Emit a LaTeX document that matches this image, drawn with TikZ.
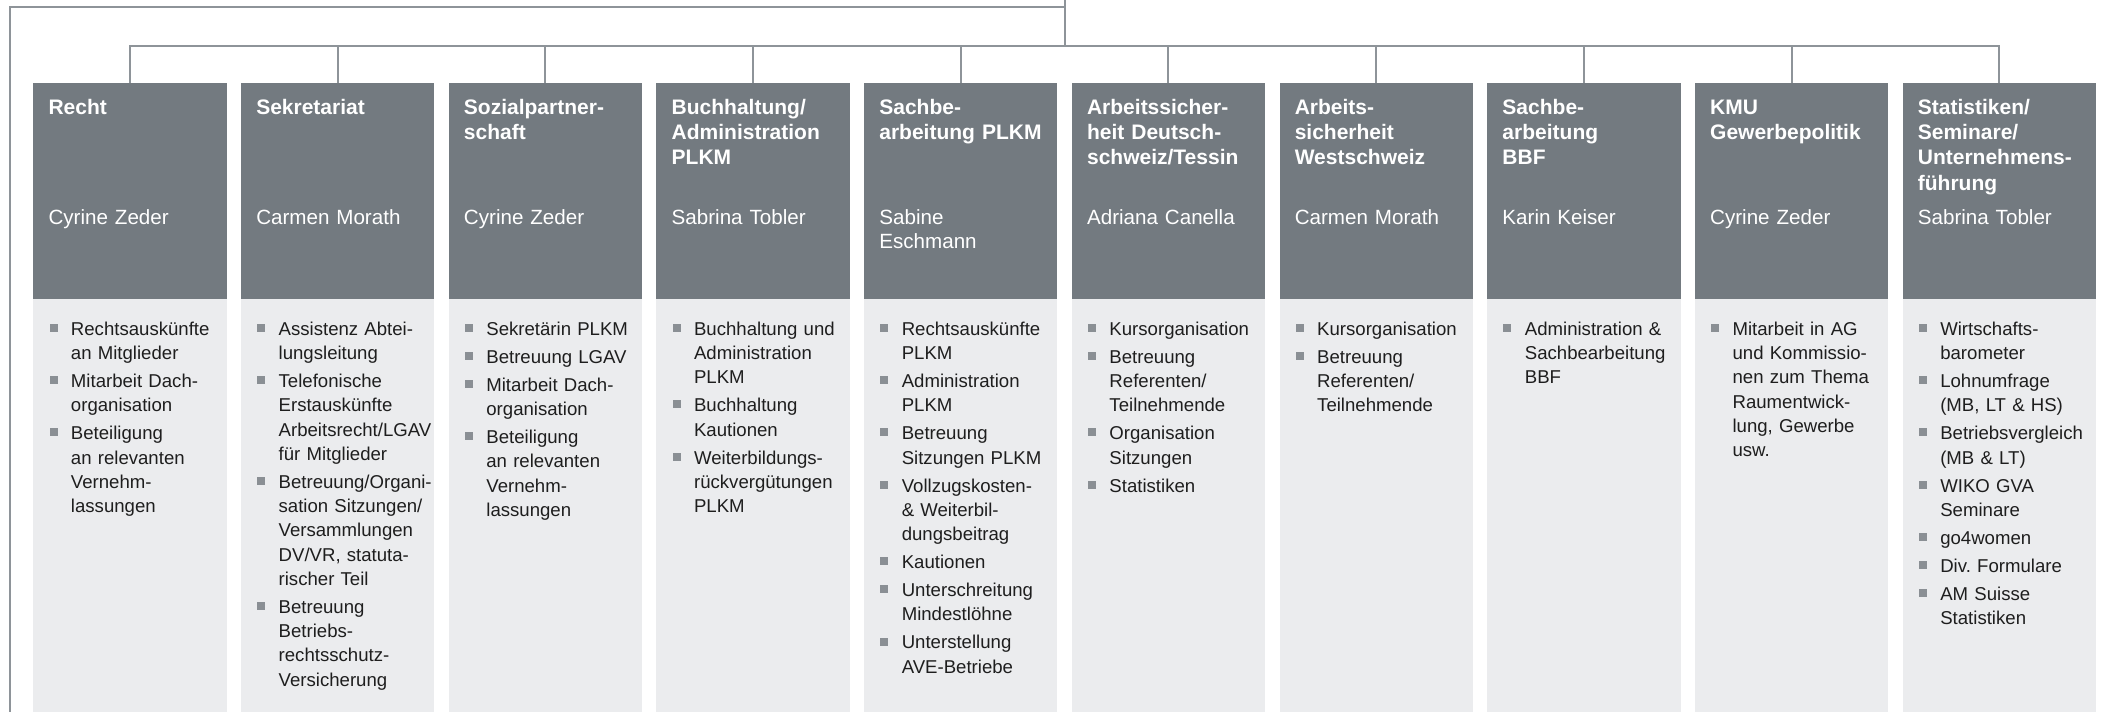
\documentclass[tikz,border=0pt]{standalone}
\usepackage{fontspec}
\setmainfont{Liberation Sans}
\frenchspacing
\newlength{\px}\setlength{\px}{0.75pt}
\definecolor{headc}{HTML}{737A80}
\definecolor{bodyc}{HTML}{EBECEE}
\definecolor{linec}{HTML}{8E9499}
\definecolor{bulc}{HTML}{8A8F94}
\definecolor{txtc}{HTML}{1E1E1E}
\newcommand{\bsq}{\textcolor{bulc}{\rule[3.3\px]{8\px}{8\px}}}
\newcommand{\bitem}[1]{\hangindent=21.4\px\hangafter=1\noindent\makebox[21.4\px][l]{\bsq}\strut{\let\\\newline#1}\par}
\newcommand{\itemsetup}{\setlength{\parskip}{2.8pt}\setlength{\parindent}{0pt}\raggedright}
\begin{document}
\begin{tikzpicture}[x=0.75pt,y=-0.75pt,
  headbox/.style={fill=headc,draw=none,anchor=north west,minimum width=145pt,minimum height=161.8pt,inner sep=0pt,outer sep=0pt},
  bodybox/.style={fill=bodyc,draw=none,anchor=north west,minimum width=145pt,minimum height=309.5pt,inner sep=0pt,outer sep=0pt},
  title/.style={anchor=north west,inner sep=0pt,text width=140pt,align=left,text=white,font=\fontsize{15.75pt}{19pt}\selectfont\bfseries},
  person/.style={anchor=north west,inner sep=0pt,text width=140pt,align=left,text=white,font=\fontsize{15.45pt}{18.2pt}\selectfont},
  items/.style={anchor=north west,inner sep=0pt,text width=135pt,text=txtc,font=\fontsize{13.95pt}{18.2pt}\selectfont,execute at begin node=\itemsetup},
  conn/.style={draw=linec,line width=1.5pt}]
\useasboundingbox (0,0) rectangle (2102,711);

% boxes
\node[headbox] (h1) at (33.3,83.3) {};
\node[headbox] (h2) at (241.0,83.3) {};
\node[headbox] (h3) at (448.7,83.3) {};
\node[headbox] (h4) at (656.4,83.3) {};
\node[headbox] (h5) at (864.1,83.3) {};
\node[headbox] (h6) at (1071.8,83.3) {};
\node[headbox] (h7) at (1279.5,83.3) {};
\node[headbox] (h8) at (1487.2,83.3) {};
\node[headbox] (h9) at (1694.9,83.3) {};
\node[headbox] (h10) at (1902.6,83.3) {};
\foreach \i in {1,...,10} \node[bodybox] (b\i) at (h\i.south west) {};

% connectors
\coordinate (hub) at (1065.3,45.7);
\coordinate (topend) at (1065.3,0);
\coordinate (framejoin) at (1065.3,6.7);
\coordinate (frameend) at (10,712);
\draw[conn] (frameend) |- (framejoin);
\draw[conn] (topend) -- (hub);
\foreach \i in {1,...,10} \draw[conn] (h\i.north) |- (hub);

% titles
\node[title] (t1) at (48.3,96.3) {\strut Recht};
\node[title] (t2) at (256.0,96.3) {\strut Sekretariat};
\node[title] (t3) at (463.7,96.3) {\strut Sozialpartner-\\schaft};
\node[title] (t4) at (671.4,96.3) {\strut Buchhaltung/\\Administration\\PLKM};
\node[title] (t5) at (879.1,96.3) {\strut Sachbe-\\arbeitung PLKM};
\node[title] (t6) at (1086.8,96.3) {\strut Arbeitssicher-\\heit Deutsch-\\schweiz/Tessin};
\node[title] (t7) at (1294.5,96.3) {\strut Arbeits-\\sicherheit\\Westschweiz};
\node[title] (t8) at (1502.2,96.3) {\strut Sachbe-\\arbeitung\\BBF};
\node[title] (t9) at (1709.9,96.3) {\strut KMU\\Gewerbepolitik};
\node[title] (t10) at (1917.6,96.3) {\strut Statistiken/\\Seminare/\\Unternehmens-\\führung};

% persons
\node[person] (n1) at (48.3,207) {\strut Cyrine Zeder};
\node[person] (n2) at (256.0,207) {\strut Carmen Morath};
\node[person] (n3) at (463.7,207) {\strut Cyrine Zeder};
\node[person] (n4) at (671.4,207) {\strut Sabrina Tobler};
\node[person] (n5) at (879.1,207) {\strut Sabine\\Eschmann};
\node[person] (n6) at (1086.8,207) {\strut Adriana Canella};
\node[person] (n7) at (1294.5,207) {\strut Carmen Morath};
\node[person] (n8) at (1502.2,207) {\strut Karin Keiser};
\node[person] (n9) at (1709.9,207) {\strut Cyrine Zeder};
\node[person] (n10) at (1917.6,207) {\strut Sabrina Tobler};

% items
\node[items] (i1) at (49.3,318) {%
\bitem{Rechtsauskünfte\\an Mitglieder}
\bitem{Mitarbeit Dach-\\organisation}
\bitem{Beteiligung\\an relevanten\\Vernehm-\\lassungen}};
\node[items] (i2) at (257.0,318) {%
\bitem{Assistenz Abtei-\\lungsleitung}
\bitem{Telefonische\\Erstauskünfte\\Arbeitsrecht/LGAV\\für Mitglieder}
\bitem{Betreuung/Organi-\\sation Sitzungen/\\Versammlungen\\DV/VR, statuta-\\rischer Teil}
\bitem{Betreuung\\Betriebs-\\rechtsschutz-\\Versicherung}};
\node[items] (i3) at (464.7,318) {%
\bitem{Sekretärin PLKM}
\bitem{Betreuung LGAV}
\bitem{Mitarbeit Dach-\\organisation}
\bitem{Beteiligung\\an relevanten\\Vernehm-\\lassungen}};
\node[items] (i4) at (672.4,318) {%
\bitem{Buchhaltung und\\Administration\\PLKM}
\bitem{Buchhaltung\\Kautionen}
\bitem{Weiterbildungs-\\rückvergütungen\\PLKM}};
\node[items] (i5) at (880.1,318) {%
\bitem{Rechtsauskünfte\\PLKM}
\bitem{Administration\\PLKM}
\bitem{Betreuung\\Sitzungen PLKM}
\bitem{Vollzugskosten-\\\& Weiterbil-\\dungsbeitrag}
\bitem{Kautionen}
\bitem{Unterschreitung\\Mindestlöhne}
\bitem{Unterstellung\\AVE-Betriebe}};
\node[items] (i6) at (1087.8,318) {%
\bitem{Kursorganisation}
\bitem{Betreuung\\Referenten/\\Teilnehmende}
\bitem{Organisation\\Sitzungen}
\bitem{Statistiken}};
\node[items] (i7) at (1295.5,318) {%
\bitem{Kursorganisation}
\bitem{Betreuung\\Referenten/\\Teilnehmende}};
\node[items] (i8) at (1503.2,318) {%
\bitem{Administration \&\\Sachbearbeitung\\BBF}};
\node[items] (i9) at (1710.9,318) {%
\bitem{Mitarbeit in AG\\und Kommissio-\\nen zum Thema\\Raumentwick-\\lung, Gewerbe\\usw.}};
\node[items] (i10) at (1918.6,318) {%
\bitem{Wirtschafts-\\barometer}
\bitem{Lohnumfrage\\(MB, LT \& HS)}
\bitem{Betriebsvergleich\\(MB \& LT)}
\bitem{WIKO GVA\\Seminare}
\bitem{go4women}
\bitem{Div. Formulare}
\bitem{AM Suisse\\Statistiken}};
\end{tikzpicture}
\end{document}
